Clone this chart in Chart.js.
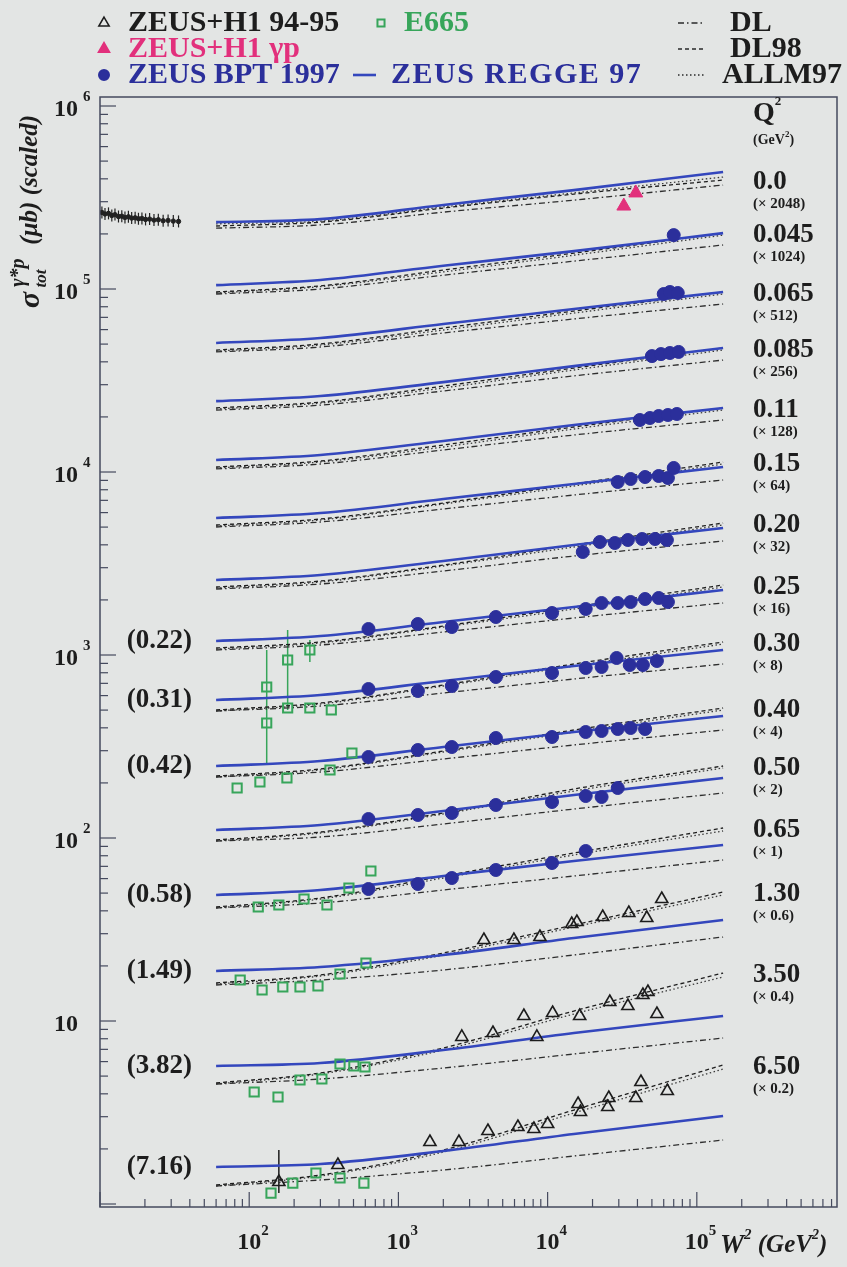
<!DOCTYPE html>
<html>
<head>
<meta charset="utf-8">
<title>sigma gamma*p vs W2</title>
<script src="https://cdn.jsdelivr.net/npm/chart.js@4.4.1/dist/chart.umd.min.js"></script>
<style>
  html, body { margin: 0; padding: 0; background: #e3e5e4; }
  #chartContainer { position: relative; width: 847px; height: 1267px; }
</style>
</head>
<body>
<div id="chartContainer"><canvas id="xsecChart"></canvas></div>
<script>
// axis ranges (W^2 in GeV^2, sigma in mub, scaled)
const X_MIN = 10, X_MAX = 8.7e5;
const Y_MIN = 0.963, Y_MAX = 1.12e6;
const xTickExps = [2, 3, 4, 5];
const yTickExps = [1, 2, 3, 4, 5, 6];

const w2Grid = [60, 300, 2000, 15000, 150000];

const binQ2 = ["0.0", "0.045", "0.065", "0.085", "0.11", "0.15", "0.20", "0.25",
  "0.30", "0.40", "0.50", "0.65", "1.30", "3.50", "6.50"];
const binScale = ["(\u00d7 2048)", "(\u00d7 1024)", "(\u00d7 512)", "(\u00d7 256)", "(\u00d7 128)",
  "(\u00d7 64)", "(\u00d7 32)", "(\u00d7 16)", "(\u00d7 8)", "(\u00d7 4)", "(\u00d7 2)",
  "(\u00d7 1)", "(\u00d7 0.6)", "(\u00d7 0.4)", "(\u00d7 0.2)"];
// E665 Q^2 values shown on the left of the matching bin
const e665Q2 = ["", "", "", "", "", "", "", "(0.22)", "(0.31)", "(0.42)", "", "(0.58)",
  "(1.49)", "(3.82)", "(7.16)"];

// model curves, one row per Q^2 bin, values at w2Grid
const regge97 = [
  [2.32e5, 2.41e5, 2.88e5, 3.47e5, 4.36e5],
  [1.05e5, 1.12e5, 1.34e5, 1.61e5, 2.02e5],
  [50700, 54000, 64400, 77800, 96300],
  [24400, 26000, 31000, 37900, 47600],
  [11630, 12380, 14770, 18060, 22370],
  [5605, 5969, 7119, 8597, 10649],
  [2569, 2736, 3263, 3991, 4943],
  [1193, 1270, 1515, 1829, 2266],
  [567.7, 604.5, 721.1, 870.9, 1065],
  [247.4, 263.5, 314.3, 379.5, 464.2],
  [110.6, 117.8, 140.5, 171.8, 212.8],
  [48.81, 51.97, 61.99, 74.88, 91.58],
  [18.76, 19.73, 22.94, 28.42, 35.63],
  [5.677, 5.895, 6.943, 8.599, 10.65],
  [1.593, 1.654, 1.948, 2.413, 3.027]
];
const dl98 = [
  [2.21e5, 2.32e5, 2.77e5, 3.30e5, 3.94e5],
  [9.63e4, 1.04e5, 1.27e5, 1.57e5, 2.02e5],
  [46400, 50100, 61200, 75800, 96300],
  [22400, 24100, 29500, 37000, 47600],
  [10650, 11480, 14050, 17620, 22370],
  [5133, 5536, 6770, 8599, 11340],
  [2353, 2537, 3103, 3991, 5264],
  [1092, 1178, 1440, 1829, 2413],
  [500.6, 546.6, 685.6, 892.9, 1178],
  [218.2, 238.3, 298.8, 389.2, 513.3],
  [97.52, 107.8, 137.0, 185.3, 247.4],
  [41.97, 47.00, 61.99, 82.80, 113.4],
  [16.13, 17.84, 23.53, 33.47, 50.69],
  [4.584, 5.198, 7.120, 11.34, 18.29],
  [1.270, 1.440, 1.973, 3.263, 5.749]
];
const allm97 = [
  [2.27e5, 2.35e5, 2.81e5, 3.35e5, 4.09e5],
  [9.51e4, 1.03e5, 1.24e5, 1.53e5, 1.97e5],
  [45800, 49400, 59700, 73900, 93900],
  [22100, 23800, 28800, 36100, 46400],
  [10520, 11340, 13700, 17180, 21820],
  [5069, 5466, 6686, 8385, 11060],
  [2323, 2506, 3064, 3892, 5133],
  [1078, 1163, 1422, 1784, 2353],
  [494.3, 539.8, 677.0, 870.7, 1148],
  [215.4, 235.3, 295.1, 379.5, 500.6],
  [96.30, 106.5, 135.3, 180.6, 241.3],
  [41.45, 46.42, 60.45, 80.74, 109.2],
  [15.93, 17.62, 22.94, 32.63, 48.81],
  [4.526, 5.133, 6.943, 10.92, 17.40],
  [1.254, 1.422, 1.924, 3.142, 5.466]
];
const dl = [
  [2.15e5, 2.24e5, 2.63e5, 3.06e5, 3.70e5],
  [9.39e4, 1.00e5, 1.19e5, 1.42e5, 1.74e5],
  [45300, 48200, 57500, 68600, 82800],
  [21800, 23200, 27700, 33500, 40900],
  [10390, 11060, 13190, 15930, 19240],
  [5006, 5331, 6278, 7487, 9042],
  [2294, 2443, 2878, 3475, 4197],
  [1065, 1134, 1336, 1593, 1924],
  [494.3, 526.4, 619.9, 739.4, 892.9],
  [215.4, 229.4, 270.2, 322.3, 389.2],
  [96.30, 101.3, 119.3, 144.0, 176.2],
  [41.45, 44.14, 51.98, 61.99, 75.82],
  [15.73, 16.75, 19.00, 22.94, 28.78],
  [4.526, 4.820, 5.536, 6.602, 8.074],
  [1.254, 1.353, 1.534, 1.829, 2.237]
];

// data points [W2, sigma(scaled), lo, hi]
const zeusBpt97 = [
  [7.0e4, 1.97e5],
  [6.0e4, 9.39e4], [6.6e4, 9.63e4], [7.45e4, 9.51e4],
  [5.0e4, 4.30e4], [5.75e4, 4.41e4], [6.6e4, 4.47e4], [7.55e4, 4.53e4],
  [4.15e4, 1.924e4], [4.85e4, 1.973e4], [5.55e4, 2.023e4], [6.4e4, 2.049e4], [7.35e4, 2.075e4],
  [2.95e4, 8818], [3.6e4, 9157], [4.5e4, 9390], [5.55e4, 9509], [6.4e4, 9273], [7.0e4, 10520],
  [1.72e4, 3655], [2.24e4, 4145], [2.82e4, 4093], [3.45e4, 4250], [4.3e4, 4304], [5.25e4, 4304], [6.3e4, 4250],
  [630, 1387], [1350, 1477], [2280, 1422], [4500, 1613], [1.07e4, 1696], [1.8e4, 1784],
  [2.3e4, 1924], [2.95e4, 1924], [3.6e4, 1948], [4.5e4, 2023], [5.55e4, 2049], [6.4e4, 1948],
  [630, 651.9], [1350, 635.7], [2280, 677.0], [4500, 758.2], [1.07e4, 797.3], [1.8e4, 849.1],
  [2.3e4, 859.9], [2.9e4, 963.0], [3.55e4, 881.8], [4.35e4, 881.8], [5.4e4, 927.3],
  [630, 277.1], [1350, 302.6], [2280, 314.2], [4500, 351.9], [1.07e4, 356.4], [1.8e4, 379.5],
  [2.3e4, 384.3], [2.95e4, 394.1], [3.6e4, 399.1], [4.5e4, 394.1],
  [630, 127.0], [1350, 133.6], [2280, 137.0], [4500, 151.5], [1.07e4, 157.3], [1.8e4, 169.6],
  [2.3e4, 167.5], [2.95e4, 187.6],
  [630, 52.64], [1350, 56.06], [2280, 60.45], [4500, 66.86], [1.07e4, 73.01], [1.8e4, 84.91]
];
const zeusH1_9495 = [
  [3740, 27.71], [5940, 27.71], [8880, 28.78], [1.45e4, 33.89], [1.57e4, 34.75], [2.34e4, 37.01],
  [3.5e4, 38.92], [4.62e4, 36.55], [5.82e4, 46.42],
  [2660, 8.18], [4300, 8.60], [6930, 10.65], [8470, 8.18], [1.08e4, 11.06], [1.64e4, 10.65],
  [2.61e4, 12.70], [3.45e4, 12.08], [4.35e4, 13.87], [4.7e4, 14.40], [5.4e4, 10.92],
  [158, 1.319, 1.148, 1.973], [393, 1.634], [1626, 2.182], [2543, 2.182], [3980, 2.506], [6320, 2.635],
  [8090, 2.569], [1.0e4, 2.736], [1.6e4, 3.519], [1.66e4, 3.182], [2.57e4, 3.795], [2.53e4, 3.389],
  [3.9e4, 3.795], [4.22e4, 4.642], [6.34e4, 4.145]
];
const zeusH1Photo = [[3.24e4, 2.84e5], [3.9e4, 3.35e5]];
const e665 = [
  [131, 668.6, 567.7, 1065], [181, 939.0, 500.6, 1370], [255, 1065, 915.7, 1208],
  [131, 425.0, 256.9, 567.7], [181, 513.3], [255, 513.3], [355, 500.6],
  [83, 187.6], [118, 202.3], [179, 212.7], [348, 235.3], [488, 291.4],
  [115, 41.97], [158, 43.04], [233, 46.42], [332, 43.04], [466, 53.31], [654, 66.02],
  [87, 16.75], [122, 14.77], [168, 15.34], [219, 15.34], [289, 15.53], [406, 18.06], [606, 20.75],
  [108, 4.093], [156, 3.843], [219, 4.760], [307, 4.820], [406, 5.822], [503, 5.677], [597, 5.606],
  [140, 1.148], [196, 1.302], [280, 1.477], [406, 1.387], [587, 1.302]
];
// low energy photoproduction points (Q2 = 0, x2048)
const lowEnergyPhoto = [
  [10.3, 2.62e5], [10.8, 2.57e5], [11.4, 2.59e5], [12.0, 2.52e5], [12.6, 2.55e5], [13.3, 2.49e5],
  [14.0, 2.50e5], [14.7, 2.46e5], [15.5, 2.48e5], [16.3, 2.44e5], [17.2, 2.45e5], [18.1, 2.42e5],
  [19.1, 2.43e5], [20.2, 2.40e5], [21.5, 2.41e5], [23.0, 2.38e5], [24.6, 2.39e5], [26.5, 2.36e5],
  [28.6, 2.37e5], [31.0, 2.35e5], [33.6, 2.34e5]
];

const BLUE = "#3447bd", DOT_BLUE = "#2b2f9b", GREEN = "#37a55a", MAGENTA = "#e2307c", INK = "#1d1d1d";
const SERIF = '"Liberation Serif", "DejaVu Serif", serif';
const font = (size, italic) => `${italic ? "italic " : ""}bold ${size}px ${SERIF}`;

const toXY = (arr) => arr.map((p) => ({ x: p[0], y: p[1] }));
const curveXY = (vals) => w2Grid.map((w, j) => ({ x: w, y: vals[j] }));

function curve(vals, color, dash, width, order) {
  return {
    data: curveXY(vals), showLine: true, borderColor: color, borderWidth: width,
    borderDash: dash, pointRadius: 0, cubicInterpolationMode: "monotone", tension: 0.3, order: order
  };
}

const datasets = [
  { data: toXY(lowEnergyPhoto), pointStyle: "line", rotation: 90, pointRadius: 6,
    pointBorderColor: "#222", pointBorderWidth: 1.2, order: 0 },
  { data: toXY(lowEnergyPhoto), pointStyle: "circle", pointRadius: 2.2,
    pointBackgroundColor: "#222", pointBorderColor: "#222", order: 0 },
  { data: toXY(zeusH1_9495), pointStyle: "triangle", pointRadius: 7,
    pointBackgroundColor: "rgba(0,0,0,0)", pointBorderColor: "#1c1c1c", pointBorderWidth: 1.6, order: 0 },
  { data: toXY(e665), pointStyle: "rect", pointRadius: 6.5,
    pointBackgroundColor: "rgba(0,0,0,0)", pointBorderColor: GREEN, pointBorderWidth: 2, order: 0 },
  { data: toXY(zeusH1Photo), pointStyle: "triangle", pointRadius: 8,
    pointBackgroundColor: MAGENTA, pointBorderColor: MAGENTA, order: 0 },
  { data: toXY(zeusBpt97), pointStyle: "circle", pointRadius: 6.5,
    pointBackgroundColor: DOT_BLUE, pointBorderColor: DOT_BLUE, order: 0 }
];
binQ2.forEach((q, i) => {
  datasets.push(curve(dl[i], "#2e2e2e", [6, 3, 1.5, 3], 1.3, 2));
  datasets.push(curve(dl98[i], "#1e1e1e", [4, 3], 1.3, 2));
  datasets.push(curve(allm97[i], "#3a3a3a", [1.5, 2.5], 1.3, 2));
  datasets.push(curve(regge97[i], BLUE, [], 2.6, 1));
});

// draws a run of text pieces (superscripts etc.) from x, returns end x
function drawRich(ctx, x, y, segs) {
  segs.forEach((s) => {
    ctx.font = font(s.size, s.italic);
    ctx.fillText(s.text, x, y + (s.dy || 0));
    if (!s.stack) x += ctx.measureText(s.text).width;
  });
  return x;
}

function errorBars(ctx, xs, ys, rows, color) {
  ctx.strokeStyle = color;
  ctx.lineWidth = 1.5;
  rows.forEach((p) => {
    if (p[2] == null) return;
    const px = xs.getPixelForValue(p[0]);
    ctx.beginPath();
    ctx.moveTo(px, ys.getPixelForValue(p[2]));
    ctx.lineTo(px, ys.getPixelForValue(p[3]));
    ctx.stroke();
  });
}

const decorations = {
  id: "decorations",
  beforeDatasetsDraw(chart) {
    const { ctx, scales: { x, y } } = chart;
    ctx.save();
    errorBars(ctx, x, y, e665, GREEN);
    errorBars(ctx, x, y, zeusH1_9495, "#1c1c1c");
    ctx.restore();
  },
  afterDraw(chart) {
    const { ctx, chartArea: a, scales: { x, y } } = chart;
    ctx.save();

    // frame and ticks
    ctx.strokeStyle = "#454a5e";
    ctx.lineWidth = 1.5;
    ctx.strokeRect(a.left, a.top, a.right - a.left, a.bottom - a.top);
    ctx.lineWidth = 1.2;
    for (let e = 0; e <= 6; e++) {
      for (let m = 1; m <= 9; m++) {
        const v = m * Math.pow(10, e);
        if (v >= Y_MIN && v <= Y_MAX) {
          const py = y.getPixelForValue(v);
          ctx.beginPath(); ctx.moveTo(a.left, py); ctx.lineTo(a.left + (m === 1 ? 16 : 8), py); ctx.stroke();
        }
        if (v >= X_MIN && v <= X_MAX) {
          const px = x.getPixelForValue(v);
          ctx.beginPath(); ctx.moveTo(px, a.bottom); ctx.lineTo(px, a.bottom - (m === 1 ? 15 : 8)); ctx.stroke();
        }
      }
    }

    // tick labels
    ctx.fillStyle = INK;
    ctx.textBaseline = "middle";
    yTickExps.forEach((e) => {
      const py = y.getPixelForValue(Math.pow(10, e));
      ctx.textAlign = "right";
      ctx.font = font(24);
      ctx.fillText("10", 78, py + 4);
      if (e > 1) {
        ctx.textAlign = "left";
        ctx.font = font(15);
        ctx.fillText(String(e), 83, py - 9);
      }
    });
    xTickExps.forEach((e) => {
      const px = x.getPixelForValue(Math.pow(10, e));
      ctx.textAlign = "center";
      ctx.font = font(24);
      ctx.fillText("10", px, a.bottom + 36);
      ctx.textAlign = "left";
      ctx.font = font(15);
      ctx.fillText(String(e), px + 12, a.bottom + 24);
    });

    // axis titles
    ctx.textAlign = "left";
    drawRich(ctx, 720, a.bottom + 39, [
      { text: "W", size: 27, italic: true }, { text: "2", size: 15, dy: -11, italic: true },
      { text: " (GeV", size: 25, italic: true }, { text: "2", size: 14, dy: -11, italic: true },
      { text: ")", size: 25, italic: true }
    ]);
    ctx.save();
    ctx.translate(31, 308);
    ctx.rotate(-Math.PI / 2);
    drawRich(ctx, 0, 0, [
      { text: "\u03c3", size: 30, italic: true },
      { text: " \u03b3*p", size: 20, dy: -12, italic: true, stack: true },
      { text: " tot", size: 17, dy: 11, italic: true },
      { text: "    (\u03bcb) (scaled)", size: 25, italic: true }
    ]);
    ctx.restore();

    // Q2 column on the right
    drawRich(ctx, 753, 114, [{ text: "Q", size: 28 }, { text: "2", size: 13, dy: -12 }]);
    drawRich(ctx, 753, 140, [{ text: "(GeV", size: 14 }, { text: "2", size: 9, dy: -5 }, { text: ")", size: 14 }]);
    binQ2.forEach((q, i) => {
      const py = y.getPixelForValue(dl98[i][dl98[i].length - 1]);
      ctx.textAlign = "left";
      ctx.font = font(27);
      ctx.fillText(q, 753, py + 2);
      ctx.font = font(15);
      ctx.fillText(binScale[i], 753, py + 24);
      if (e665Q2[i]) {
        ctx.textAlign = "right";
        ctx.font = font(27);
        ctx.fillText(e665Q2[i], 192, y.getPixelForValue(regge97[i][0]));
      }
    });

    // legend
    const H = Chart.helpers;
    const rows = [23, 49, 75];
    ctx.textAlign = "left";
    ctx.font = font(30);
    ctx.lineWidth = 1.5;
    ctx.strokeStyle = "#1c1c1c"; ctx.fillStyle = "rgba(0,0,0,0)";
    H.drawPoint(ctx, { pointStyle: "triangle", radius: 6, rotation: 0, borderWidth: 1.5 }, 104, rows[0]);
    ctx.fillStyle = INK;
    ctx.fillText("ZEUS+H1 94-95", 128, rows[0]);
    ctx.strokeStyle = GREEN; ctx.fillStyle = "rgba(0,0,0,0)"; ctx.lineWidth = 2;
    H.drawPoint(ctx, { pointStyle: "rect", radius: 5, rotation: 0, borderWidth: 2 }, 381, rows[0]);
    ctx.fillStyle = GREEN;
    ctx.fillText("E665", 404, rows[0]);
    ctx.fillStyle = MAGENTA; ctx.strokeStyle = MAGENTA;
    H.drawPoint(ctx, { pointStyle: "triangle", radius: 6, rotation: 0, borderWidth: 1 }, 104, rows[1]);
    ctx.fillText("ZEUS+H1 \u03b3p", 128, rows[1]);
    ctx.fillStyle = DOT_BLUE; ctx.strokeStyle = DOT_BLUE;
    H.drawPoint(ctx, { pointStyle: "circle", radius: 5, rotation: 0, borderWidth: 1 }, 104, rows[2]);
    ctx.fillText("ZEUS BPT 1997", 128, rows[2]);
    ctx.strokeStyle = BLUE; ctx.lineWidth = 2.6;
    ctx.beginPath(); ctx.moveTo(353, rows[2]); ctx.lineTo(376, rows[2]); ctx.stroke();
    ctx.letterSpacing = "1.5px";
    ctx.fillText("ZEUS REGGE 97", 391, rows[2]);
    ctx.letterSpacing = "0px";
    const styles = [[6, 3, 1.5, 3], [4, 3], [1.5, 2.5]];
    const names = ["DL", "DL98", "ALLM97"];
    ctx.strokeStyle = "#2a2a2a"; ctx.lineWidth = 1.3; ctx.fillStyle = INK;
    rows.forEach((ry, k) => {
      ctx.setLineDash(styles[k]);
      ctx.beginPath(); ctx.moveTo(678, ry); ctx.lineTo(704, ry); ctx.stroke();
      ctx.setLineDash([]);
      ctx.fillText(names[k], k === 2 ? 722 : 730, ry);
    });

    ctx.restore();
  }
};

new Chart(document.getElementById("xsecChart").getContext("2d"), {
  type: "scatter",
  data: { datasets: datasets },
  options: {
    responsive: true,
    maintainAspectRatio: false,
    animation: false,
    layout: { padding: { left: 100, right: 10, top: 97, bottom: 60 } },
    scales: {
      x: { type: "logarithmic", display: false, min: X_MIN, max: X_MAX },
      y: { type: "logarithmic", display: false, min: Y_MIN, max: Y_MAX }
    },
    plugins: { legend: { display: false }, tooltip: { enabled: false } }
  },
  plugins: [decorations]
});
</script>
</body>
</html>
